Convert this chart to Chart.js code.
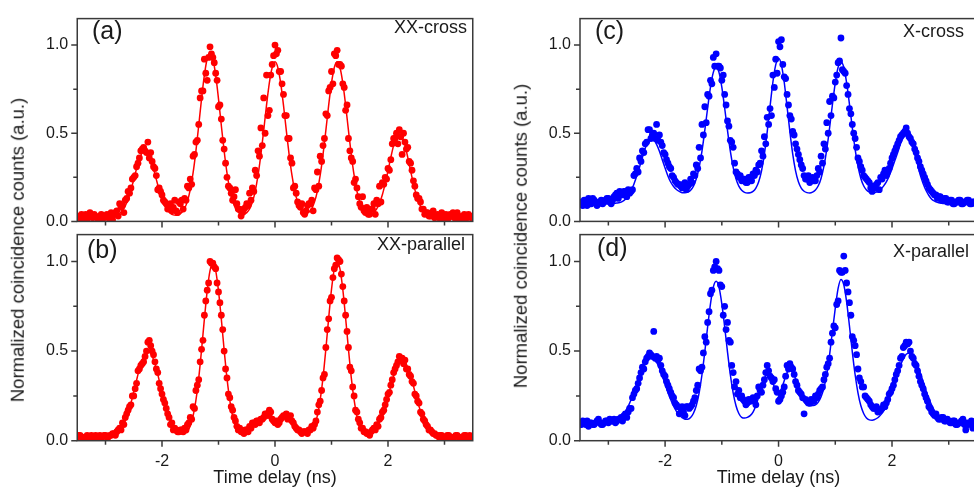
<!DOCTYPE html>
<html>
<head>
<meta charset="utf-8">
<script src="https://cdn.jsdelivr.net/npm/chart.js@4.4.0/dist/chart.umd.min.js"></script>
<style>
  html, body { margin: 0; padding: 0; background: #fff; overflow: hidden; }
  body { width: 974px; height: 494px; position: relative; font-family: "Liberation Sans", Arial, sans-serif; color: #1a1a1a; }
  canvas { position: absolute; }
  .lbl { position: absolute; white-space: nowrap; line-height: 1; }
  .panel { font-size: 25px; }
  .tag { font-size: 18px; }
  .ytitle { font-size: 18.5px; transform: translate(-50%, -50%) rotate(-90deg); }
</style>
</head>
<body>
<canvas id="panelA" width="487" height="240" style="left:0;top:0"></canvas>
<canvas id="panelB" width="487" height="278" style="left:0;top:216px"></canvas>
<canvas id="panelC" width="500" height="240" style="left:487px;top:0"></canvas>
<canvas id="panelD" width="500" height="278" style="left:487px;top:216px"></canvas>

<div class="lbl panel" style="left:92px;top:18.3px">(a)</div>
<div class="lbl panel" style="left:87px;top:237px">(b)</div>
<div class="lbl panel" style="left:595px;top:17.8px">(c)</div>
<div class="lbl panel" style="left:597px;top:235px">(d)</div>
<div class="lbl tag" style="right:507px;top:17.7px">XX-cross</div>
<div class="lbl tag" style="right:509px;top:235.2px">XX-parallel</div>
<div class="lbl tag" style="right:10px;top:22.2px">X-cross</div>
<div class="lbl tag" style="right:5px;top:242.2px">X-parallel</div>
<div class="lbl ytitle" style="left:18px;top:250px">Normalized coincidence counts (a.u.)</div>
<div class="lbl ytitle" style="left:521px;top:236px">Normalized coincidence counts (a.u.)</div>

<script>
// --- time bins (ns) ---
const timeNs = [
  -3.5, -3.45, -3.4, -3.35, -3.3, -3.25, -3.2, -3.15, -3.1, -3.05,
  -3.0, -2.95, -2.9, -2.85, -2.8, -2.75, -2.7, -2.65, -2.6, -2.55,
  -2.5, -2.45, -2.4, -2.35, -2.3, -2.25, -2.2, -2.15, -2.1, -2.05,
  -2.0, -1.95, -1.9, -1.85, -1.8, -1.75, -1.7, -1.65, -1.6, -1.55,
  -1.5, -1.45, -1.4, -1.35, -1.3, -1.25, -1.2, -1.15, -1.1, -1.05,
  -1.0, -0.95, -0.9, -0.85, -0.8, -0.75, -0.7, -0.65, -0.6, -0.55,
  -0.5, -0.45, -0.4, -0.35, -0.3, -0.25, -0.2, -0.15, -0.1, -0.05,
  0, 0.05, 0.1, 0.15, 0.2, 0.25, 0.3, 0.35, 0.4, 0.45,
  0.5, 0.55, 0.6, 0.65, 0.7, 0.75, 0.8, 0.85, 0.9, 0.95,
  1.0, 1.05, 1.1, 1.15, 1.2, 1.25, 1.3, 1.35, 1.4, 1.45,
  1.5, 1.55, 1.6, 1.65, 1.7, 1.75, 1.8, 1.85, 1.9, 1.95,
  2.0, 2.05, 2.1, 2.15, 2.2, 2.25, 2.3, 2.35, 2.4, 2.45,
  2.5, 2.55, 2.6, 2.65, 2.7, 2.75, 2.8, 2.85, 2.9, 2.95,
  3.0, 3.05, 3.1, 3.15, 3.2, 3.25, 3.3, 3.35, 3.4, 3.45,
  3.5
];
// half-bin offsets of the measured histogram
const timeMidNs = [
  -3.475, -3.425, -3.375, -3.325, -3.275, -3.225, -3.175, -3.125, -3.075, -3.025,
  -2.975, -2.925, -2.875, -2.825, -2.775, -2.725, -2.675, -2.625, -2.575, -2.525,
  -2.475, -2.425, -2.375, -2.325, -2.275, -2.225, -2.175, -2.125, -2.075, -2.025,
  -1.975, -1.925, -1.875, -1.825, -1.775, -1.725, -1.675, -1.625, -1.575, -1.525,
  -1.475, -1.425, -1.375, -1.325, -1.275, -1.225, -1.175, -1.125, -1.075, -1.025,
  -0.975, -0.925, -0.875, -0.825, -0.775, -0.725, -0.675, -0.625, -0.575, -0.525,
  -0.475, -0.425, -0.375, -0.325, -0.275, -0.225, -0.175, -0.125, -0.075, -0.025,
  0.025, 0.075, 0.125, 0.175, 0.225, 0.275, 0.325, 0.375, 0.425, 0.475,
  0.525, 0.575, 0.625, 0.675, 0.725, 0.775, 0.825, 0.875, 0.925, 0.975,
  1.025, 1.075, 1.125, 1.175, 1.225, 1.275, 1.325, 1.375, 1.425, 1.475,
  1.525, 1.575, 1.625, 1.675, 1.725, 1.775, 1.825, 1.875, 1.925, 1.975,
  2.025, 2.075, 2.125, 2.175, 2.225, 2.275, 2.325, 2.375, 2.425, 2.475,
  2.525, 2.575, 2.625, 2.675, 2.725, 2.775, 2.825, 2.875, 2.925, 2.975,
  3.025, 3.075, 3.125, 3.175, 3.225, 3.275, 3.325, 3.375, 3.425, 3.475
];

// --- (a) XX-cross ---
const xxCrossData = [
  .03,.02,.03,.04,.02,.03,.04,.02,.01,.03,
  .03,.02,.05,.04,.06,.10,.09,.12,.17,.19,
  .25,.31,.36,.41,.40,.45,.39,.31,.26,.19,
  .15,.11,.07,.10,.08,.06,.11,.12,.13,.20,
  .24,.37,.45,.55,.74,.92,.80,.99,.93,.84,
  .65,.58,.41,.25,.19,.12,.18,.07,.03,.07,
  .10,.16,.19,.29,.40,.53,.70,.83,.63,.89,
  1.0,.97,.85,.72,.60,.47,.33,.20,.11,.08,
  .05,.06,.10,.12,.19,.28,.37,.43,.61,.74,
  .85,.95,.97,.89,.78,.63,.47,.36,.22,.19,
  .10,.14,.05,.04,.07,.10,.12,.20,.22,.25,
  .30,.35,.47,.50,.52,.38,.45,.42,.33,.23,
  .15,.13,.07,.04,.05,.03,.06,.03,.02,.05,
  .03,.01,.04,.05,.02,.03,.01,.04,.02,.03,
  .03
];
const xxCrossDataMid = [
  .02,.04,.01,.03,.05,.02,.03,.01,.04,.02,
  .04,.03,.01,.05,.03,.08,.05,.13,.16,.24,
  .26,.33,.40,.42,.39,.36,.34,.30,.18,.17,
  .12,.10,.09,.06,.12,.05,.10,.07,.12,.19,
  .21,.38,.46,.70,.74,.84,.93,.95,.90,.80,
  .66,.46,.33,.20,.16,.14,.10,.07,.05,.08,
  .09,.12,.17,.26,.37,.43,.50,.60,.83,.94,
  .95,.85,.78,.60,.47,.36,.19,.16,.09,.10,
  .04,.09,.10,.06,.18,.20,.34,.47,.60,.76,
  .78,.94,.89,.88,.76,.66,.40,.34,.24,.14,
  .08,.06,.08,.04,.07,.04,.10,.11,.21,.24,
  .29,.44,.47,.44,.48,.50,.41,.34,.29,.20,
  .13,.11,.07,.05,.03,.04,.02,.04,.03,.01,
  .04,.02,.03,.02,.05,.01,.03,.02,.04,.02
];
const xxCrossFit = [
  .025,.025,.025,.025,.025,.025,.025,.025,.025,.025,
  .025,.026,.027,.030,.035,.045,.062,.088,.127,.178,
  .237,.299,.353,.391,.405,.391,.353,.299,.237,.178,
  .127,.088,.062,.046,.037,.035,.038,.050,.073,.115,
  .180,.275,.399,.544,.695,.829,.922,.955,.922,.829,
  .695,.544,.399,.275,.180,.115,.074,.052,.041,.041,
  .050,.071,.110,.172,.262,.379,.516,.659,.785,.873,
  .905,.873,.785,.659,.516,.379,.262,.172,.111,.073,
  .053,.046,.053,.073,.111,.172,.262,.379,.516,.659,
  .785,.873,.905,.873,.785,.659,.516,.379,.262,.172,
  .111,.074,.050,.041,.042,.051,.071,.104,.151,.214,
  .287,.363,.431,.478,.495,.478,.431,.363,.287,.214,
  .151,.104,.071,.051,.037,.031,.027,.026,.025,.025,
  .025,.025,.025,.025,.025,.025,.025,.025,.025,.025,
  .025
];

// --- (b) XX-parallel ---
const xxParallelData = [
  .02,.03,.02,.01,.02,.03,.02,.02,.03,.02,
  .03,.02,.03,.04,.05,.07,.10,.13,.17,.20,
  .25,.32,.40,.43,.47,.55,.53,.48,.40,.32,
  .26,.21,.15,.09,.06,.06,.05,.06,.07,.09,
  .13,.19,.28,.34,.51,.70,.84,1.0,.99,.96,
  .83,.70,.50,.35,.24,.17,.11,.06,.05,.04,
  .06,.08,.10,.09,.11,.12,.13,.15,.17,.12,
  .10,.09,.12,.14,.15,.13,.11,.08,.06,.05,
  .05,.05,.06,.08,.09,.16,.22,.35,.52,.68,
  .80,.96,1.02,1.0,.86,.70,.52,.39,.25,.16,
  .10,.07,.05,.04,.05,.07,.09,.12,.16,.20,
  .26,.31,.38,.42,.47,.46,.45,.40,.36,.32,
  .25,.21,.15,.11,.08,.06,.04,.03,.02,.03,
  .02,.03,.02,.01,.03,.02,.02,.03,.02,.03,
  .02
];
const xxParallelDataMid = [
  .03,.02,.01,.03,.02,.02,.03,.01,.02,.03,
  .02,.03,.04,.03,.06,.06,.09,.15,.19,.25,
  .29,.39,.42,.44,.50,.56,.50,.44,.38,.29,
  .23,.18,.13,.10,.07,.05,.06,.05,.06,.10,
  .12,.18,.31,.44,.56,.78,.88,.99,.97,.88,
  .77,.62,.40,.26,.19,.13,.08,.07,.05,.06,
  .05,.07,.10,.11,.10,.12,.15,.14,.16,.11,
  .11,.10,.13,.14,.12,.14,.10,.07,.06,.04,
  .05,.04,.06,.07,.11,.20,.28,.37,.62,.78,
  .91,.98,1.01,.93,.78,.61,.41,.30,.17,.12,
  .07,.05,.04,.03,.06,.06,.08,.13,.17,.23,
  .27,.34,.40,.44,.45,.43,.40,.37,.33,.26,
  .22,.16,.12,.09,.06,.05,.04,.03,.03,.02,
  .02,.03,.02,.02,.03,.01,.02,.03,.02,.02
];
const xxParallelFit = [
  .020,.020,.020,.020,.020,.020,.020,.020,.020,.020,
  .021,.023,.026,.032,.041,.056,.079,.112,.155,.210,
  .272,.338,.401,.453,.488,.500,.488,.453,.401,.338,
  .272,.210,.155,.112,.079,.057,.043,.037,.039,.052,
  .082,.137,.225,.349,.506,.678,.836,.949,.990,.949,
  .836,.678,.506,.349,.225,.137,.082,.052,.045,.048,
  .056,.066,.078,.090,.102,.115,.130,.145,.150,.136,
  .113,.108,.117,.130,.137,.131,.113,.090,.070,.057,
  .050,.046,.048,.060,.086,.140,.228,.352,.511,.684,
  .844,.959,1.0,.959,.844,.684,.511,.352,.228,.138,
  .083,.052,.038,.035,.041,.053,.073,.103,.141,.190,
  .245,.305,.361,.408,.439,.450,.439,.408,.361,.305,
  .245,.190,.141,.103,.073,.053,.039,.030,.026,.023,
  .021,.020,.020,.020,.020,.020,.020,.020,.020,.020,
  .020
];

// --- (c) X-cross ---
const xCrossData = [
  .10,.09,.11,.13,.10,.12,.09,.11,.10,.12,
  .13,.10,.14,.16,.17,.15,.17,.18,.17,.26,
  .30,.36,.40,.44,.52,.47,.50,.55,.49,.43,
  .38,.33,.30,.25,.22,.21,.19,.22,.20,.24,
  .27,.32,.42,.55,.65,.72,.80,.93,.95,.88,
  .80,.72,.57,.46,.42,.28,.25,.23,.24,.22,
  .25,.27,.29,.32,.40,.48,.59,.64,.83,.92,
  1.02,1.03,.82,.72,.60,.51,.44,.38,.32,.26,
  .24,.22,.25,.23,.30,.37,.44,.56,.68,.71,
  .79,.90,1.04,.85,.77,.64,.55,.47,.36,.31,
  .26,.24,.22,.17,.19,.22,.25,.27,.26,.30,
  .36,.40,.44,.48,.50,.53,.48,.45,.41,.36,
  .31,.27,.23,.19,.17,.15,.13,.14,.12,.13,
  .11,.12,.10,.11,.12,.10,.11,.12,.10,.11,
  .12
];
const xCrossDataMid = [
  .11,.12,.09,.10,.13,.11,.10,.12,.11,.13,
  .11,.12,.15,.13,.16,.17,.14,.16,.18,.27,
  .28,.34,.39,.45,.52,.49,.47,.46,.45,.39,
  .35,.31,.26,.23,.21,.20,.21,.18,.21,.22,
  .26,.30,.36,.49,.56,.71,.78,.88,.88,.87,
  .83,.66,.54,.45,.33,.27,.26,.24,.22,.25,
  .23,.26,.28,.33,.37,.44,.55,.60,.76,.84,
  .99,.89,.81,.66,.58,.49,.41,.35,.30,.24,
  .26,.24,.23,.26,.28,.33,.41,.50,.60,.70,
  .83,.91,.86,.84,.72,.61,.50,.42,.34,.29,
  .25,.23,.19,.20,.21,.18,.24,.29,.28,.33,
  .38,.42,.46,.49,.51,.50,.47,.44,.39,.34,
  .29,.25,.21,.18,.16,.15,.14,.12,.13,.11,
  .12,.10,.11,.12,.10,.11,.12,.10,.11,.10
];
const xCrossFit = [
  .100,.100,.100,.100,.100,.100,.100,.100,.100,.100,
  .100,.101,.102,.104,.107,.114,.126,.145,.173,.211,
  .257,.308,.362,.415,.452,.468,.462,.437,.398,.350,
  .303,.258,.222,.198,.181,.170,.163,.162,.166,.177,
  .200,.241,.307,.399,.516,.643,.761,.845,.875,.845,
  .761,.643,.516,.399,.307,.241,.200,.177,.165,.161,
  .162,.170,.189,.225,.287,.382,.508,.651,.789,.888,
  .925,.888,.789,.651,.508,.382,.287,.225,.189,.171,
  .163,.161,.166,.178,.202,.245,.313,.409,.531,.664,
  .786,.874,.905,.874,.786,.664,.531,.409,.313,.245,
  .202,.178,.166,.162,.164,.170,.181,.200,.224,.258,
  .299,.345,.391,.440,.475,.485,.472,.440,.385,.325,
  .261,.214,.175,.147,.126,.115,.108,.104,.102,.101,
  .100,.100,.100,.100,.100,.100,.100,.100,.100,.100,
  .100
];

// --- (d) X-parallel ---
const xParallelData = [
  .10,.11,.09,.08,.10,.09,.11,.10,.09,.11,
  .10,.11,.12,.11,.12,.11,.15,.16,.18,.26,
  .29,.35,.41,.44,.47,.48,.61,.47,.46,.39,
  .36,.31,.27,.24,.20,.15,.19,.14,.19,.19,
  .22,.28,.40,.41,.58,.66,.82,.95,1.0,.95,
  .86,.75,.66,.55,.38,.33,.28,.25,.22,.21,
  .22,.24,.20,.30,.27,.34,.42,.36,.33,.29,
  .22,.25,.30,.42,.43,.40,.33,.28,.26,.15,
  .22,.21,.22,.25,.26,.29,.34,.41,.46,.60,
  .63,.78,.94,1.03,.88,.77,.58,.53,.40,.33,
  .30,.24,.22,.19,.18,.16,.17,.20,.21,.26,
  .29,.34,.39,.46,.52,.55,.55,.47,.43,.39,
  .33,.29,.24,.19,.16,.14,.13,.12,.13,.11,
  .11,.10,.11,.09,.10,.12,.06,.09,.11,.10,
  .08
];
const xParallelDataMid = [
  .09,.10,.11,.10,.09,.10,.12,.09,.10,.11,
  .12,.11,.10,.12,.13,.14,.13,.18,.24,.28,
  .32,.38,.40,.46,.49,.47,.46,.45,.42,.37,
  .33,.29,.25,.21,.19,.18,.16,.19,.18,.20,
  .24,.31,.39,.49,.55,.72,.84,.97,.96,.87,
  .70,.62,.56,.42,.30,.26,.24,.23,.20,.23,
  .23,.22,.25,.28,.31,.38,.39,.35,.34,.27,
  .23,.27,.36,.40,.41,.37,.31,.27,.24,.23,
  .21,.23,.22,.24,.28,.30,.37,.43,.55,.64,
  .76,.95,.94,.95,.83,.70,.56,.48,.35,.30,
  .25,.23,.20,.18,.19,.17,.18,.19,.23,.27,
  .31,.37,.42,.47,.53,.54,.50,.46,.42,.36,
  .31,.26,.22,.18,.15,.15,.12,.13,.11,.12,
  .10,.11,.09,.10,.11,.09,.10,.10,.07,.09
];
const xParallelFit = [
  .100,.100,.100,.100,.100,.100,.100,.100,.100,.100,
  .103,.105,.110,.116,.127,.142,.164,.192,.228,.269,
  .315,.362,.405,.439,.462,.470,.462,.439,.405,.362,
  .315,.269,.228,.192,.164,.143,.129,.120,.120,.129,
  .153,.196,.267,.368,.496,.636,.764,.857,.890,.857,
  .764,.636,.496,.368,.267,.195,.152,.130,.126,.130,
  .140,.160,.195,.245,.300,.348,.368,.355,.320,.285,
  .270,.290,.335,.380,.398,.385,.345,.295,.250,.220,
  .203,.195,.196,.200,.215,.245,.295,.370,.480,.610,
  .740,.850,.900,.870,.775,.640,.496,.368,.267,.196,
  .152,.127,.116,.114,.119,.128,.144,.167,.197,.235,
  .279,.327,.376,.421,.458,.482,.490,.482,.458,.421,
  .376,.327,.279,.235,.197,.167,.144,.128,.117,.110,
  .106,.103,.102,.100,.100,.100,.100,.100,.100,.100,
  .100
];

// --- axis ticks ---
const xRange = [-3.5, 3.5];
const yRange = [0, 1.15];
const xMajorTicks = [-2, 0, 2];
const xMinorTicks = [-3, -1, 1, 3];
const yMajorTicks = [0, 0.5, 1.0];
const yMinorTicks = [0.25, 0.75];

const RED = "#ff0000";
const BLUE = "#0000ff";
const AXIS = "#3a3a3a";

Chart.defaults.font.family = '"Liberation Sans", Arial, sans-serif';
Chart.defaults.color = "#1a1a1a";

// draws the box and the major / minor tick marks from the scales
const framePlugin = {
  id: "frame",
  afterDraw(chart) {
    const { ctx, chartArea: a, scales: { x, y } } = chart;
    ctx.save();
    ctx.strokeStyle = AXIS;
    ctx.lineWidth = 1.5;
    ctx.strokeRect(a.left, a.top, a.right - a.left, a.bottom - a.top);
    ctx.beginPath();
    const xTick = (v, len) => {
      const px = x.getPixelForValue(v);
      ctx.moveTo(px, a.bottom);
      ctx.lineTo(px, a.bottom + len);
    };
    const yTick = (v, len) => {
      const py = y.getPixelForValue(v);
      ctx.moveTo(a.left, py);
      ctx.lineTo(a.left - len, py);
    };
    xMajorTicks.forEach(v => xTick(v, 6));
    xMinorTicks.forEach(v => xTick(v, 4));
    yMajorTicks.forEach(v => yTick(v, 6));
    yMinorTicks.forEach(v => yTick(v, 4));
    ctx.stroke();
    ctx.restore();
  }
};

const toPoints = (times, vals) => times.map((t, i) => ({ x: t, y: vals[i] }));

function dotSet(times, vals, color) {
  return {
    data: toPoints(times, vals),
    pointRadius: 3.4,
    pointHoverRadius: 3.4,
    pointBackgroundColor: color,
    pointBorderWidth: 0,
    clip: 0
  };
}

function makePanel(id, data, dataMid, fit, color, geo, showX) {
  return new Chart(document.getElementById(id), {
    type: "scatter",
    data: {
      datasets: [
        dotSet(timeNs, data, color),
        dotSet(timeMidNs, dataMid, color),
        {
          data: toPoints(timeNs, fit),
          showLine: true,
          pointRadius: 0,
          borderColor: color,
          borderWidth: 1.5,
          cubicInterpolationMode: "monotone",
          clip: 0
        }
      ]
    },
    options: {
      responsive: false,
      animation: false,
      events: [],
      layout: { padding: { top: 8, right: geo.padRight, left: 0, bottom: 0 } },
      plugins: { legend: { display: false }, tooltip: { enabled: false } },
      scales: {
        x: {
          type: "linear",
          min: xRange[0],
          max: xRange[1],
          grid: { display: false, drawTicks: false },
          border: { display: false },
          afterBuildTicks: s => { s.ticks = xMajorTicks.map(v => ({ value: v })); },
          ticks: { display: showX, padding: 11, font: { size: 16 }, maxRotation: 0, autoSkip: false, callback: v => String(v) },
          title: { display: showX, text: "Time delay (ns)", font: { size: 18 }, padding: { top: 0, bottom: 5 } },
          afterFit: s => { s.height = geo.xHeight; }
        },
        y: {
          min: yRange[0],
          max: yRange[1],
          grid: { display: false, drawTicks: false },
          border: { display: false },
          afterBuildTicks: s => { s.ticks = yMajorTicks.map(v => ({ value: v })); },
          ticks: { padding: 9, font: { size: 16 }, callback: v => v.toFixed(1) },
          afterFit: s => { s.width = geo.yWidth; }
        }
      }
    },
    plugins: [framePlugin]
  });
}

makePanel("panelA", xxCrossData, xxCrossDataMid, xxCrossFit, RED, { yWidth: 77.25, padRight: 14.25, xHeight: 16.7 }, false);
makePanel("panelB", xxParallelData, xxParallelDataMid, xxParallelFit, RED, { yWidth: 77.25, padRight: 14.25, xHeight: 53.3 }, true);
makePanel("panelC", xCrossData, xCrossDataMid, xCrossFit, BLUE, { yWidth: 93, padRight: 9.9, xHeight: 16.7 }, false);
makePanel("panelD", xParallelData, xParallelDataMid, xParallelFit, BLUE, { yWidth: 93, padRight: 9.9, xHeight: 53.3 }, true);
</script>
</body>
</html>
